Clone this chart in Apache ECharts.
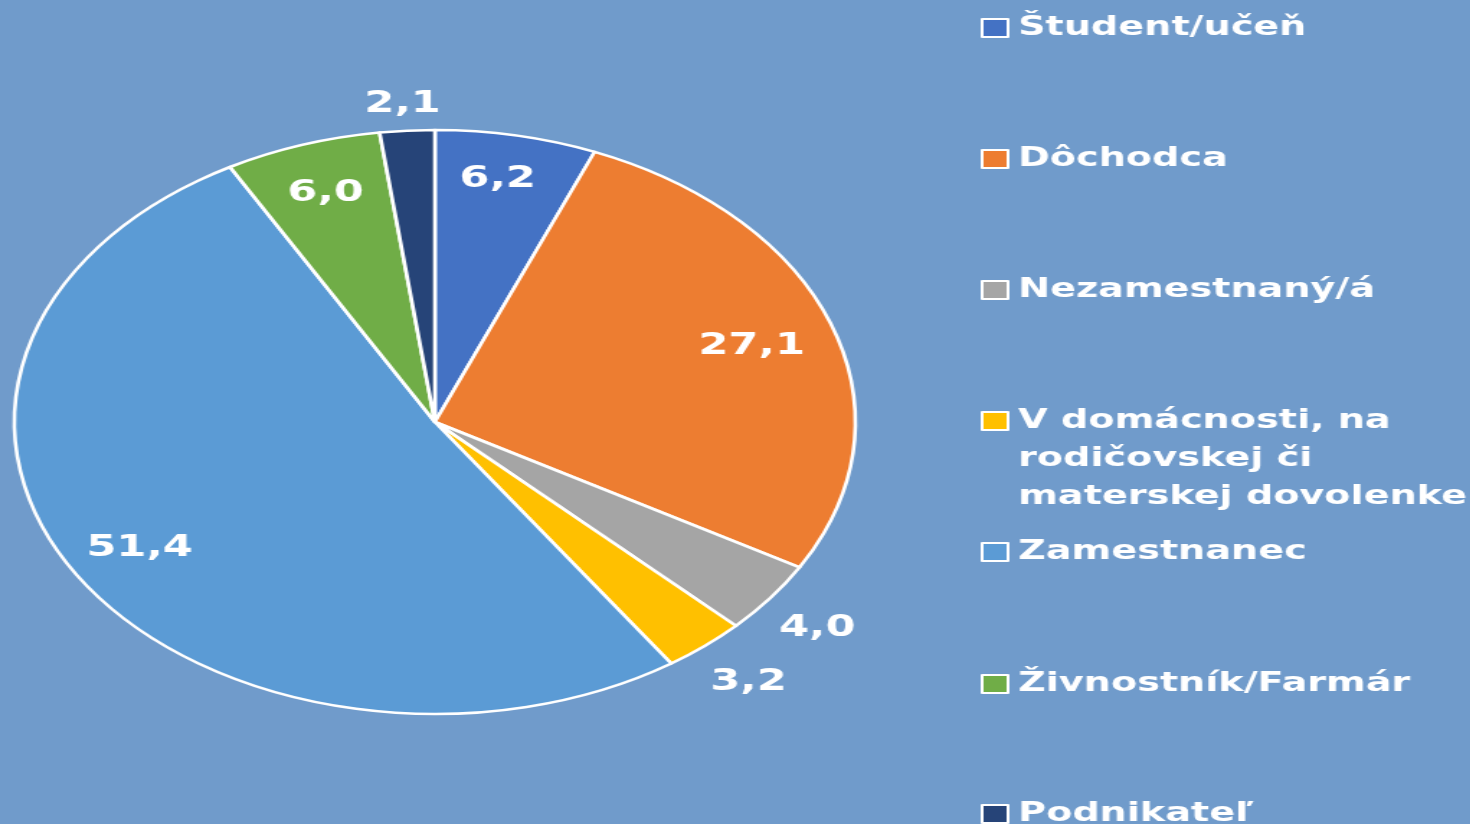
<!DOCTYPE html>
<html>
<head>
<meta charset="utf-8">
<script src="https://cdn.jsdelivr.net/npm/echarts@6/dist/echarts.min.js"></script>
<style>
  html, body { margin: 0; padding: 0; width: 1470px; height: 824px; overflow: hidden; background: #709bcb; }
  /* the source picture is stretched sideways, so the chart is drawn narrow and scaled */
  #chart { width: 1021px; height: 824px; transform: scaleX(1.44); transform-origin: 0 0; }
</style>
</head>
<body>
<div id="chart"></div>
<script>
const categories = [
  'Študent/učeň',
  'Dôchodca',
  'Nezamestnaný/á',
  'V domácnosti, na rodičovskej či materskej dovolenke',
  'Zamestnanec',
  'Živnostník/Farmár',
  'Podnikateľ'
]
const values = [6.2, 27.1, 4.0, 3.2, 51.4, 6.0, 2.1]
// which values sit inside their slice (the rest go just outside)
const labelInside = [true, true, false, false, true, true, false]

const palette = ['#4472c4', '#ed7d31', '#a5a5a5', '#ffc000', '#5b9bd5', '#70ad47', '#264478']

// small nudges so labels land where the original put them
const labelNudge = {
  'Študent/učeň': [-3, -6],
  'Dôchodca': [-8, 2],
  'Nezamestnaný/á': [-5, 2],
  'Podnikateľ': [0, 20]
}

const chart = echarts.init(document.getElementById('chart'))

const fmt = p => p.value.toFixed(1).replace('.', ',')
const font = '"DejaVu Sans", sans-serif'
const center = [302, 422]

// legend: one component per item so the 3-line item keeps the same spacing
const legendTops = [28, 159, 290, 421, 552, 684, 814]
const legends = categories.map((name, i) => {
  const multi = name.startsWith('V dom')
  return {
    orient: 'vertical',
    left: 681,
    top: multi ? legendTops[i] - 19 * 5 : legendTops[i] - 19,
    padding: 0,
    itemWidth: 18,
    itemHeight: 18,
    itemGap: 6,
    icon: 'rect',
    selectedMode: false,
    data: [{ name: name, itemStyle: { color: palette[i], borderColor: '#fff', borderWidth: 2 } }],
    formatter: n => multi ? '\n\nV domácnosti, na\nrodičovskej či\nmaterskej dovolenke' : n,
    textStyle: {
      color: '#fff',
      fontFamily: font,
      fontWeight: 'bold',
      fontSize: 26.5,
      lineHeight: 38,
      padding: [0, 0, 0, 2]
    }
  }
})

const labelSeries = (radius, showFn) => ({
  type: 'pie',
  center: center,
  radius: radius,
  startAngle: 90,
  silent: true,
  legendHoverLink: false,
  z: 3,
  itemStyle: { color: 'transparent', borderWidth: 0 },
  emphasis: { disabled: true },
  label: {
    position: 'inside',
    formatter: fmt,
    color: '#fff',
    fontFamily: font,
    fontWeight: 'bold',
    fontSize: 30
  },
  labelLine: { show: false },
  data: categories.map((n, i) => ({
    name: n,
    value: values[i],
    label: { show: showFn(i), offset: labelNudge[n] || [0, 0] }
  }))
})

const option = {
  backgroundColor: '#709bcb',
  animation: false,
  legend: legends,
  series: [
    {
      type: 'pie',
      center: center,
      radius: [0, 292],
      startAngle: 90,
      clockwise: true,
      label: { show: false },
      labelLine: { show: false },
      itemStyle: { borderColor: '#fff', borderWidth: 2.6 },
      data: categories.map((n, i) => ({ name: n, value: values[i], itemStyle: { color: palette[i] } }))
    },
    labelSeries([184, 292], i => labelInside[i]),
    labelSeries([292, 380], i => !labelInside[i])
  ]
}

chart.setOption(option)
</script>
</body>
</html>
